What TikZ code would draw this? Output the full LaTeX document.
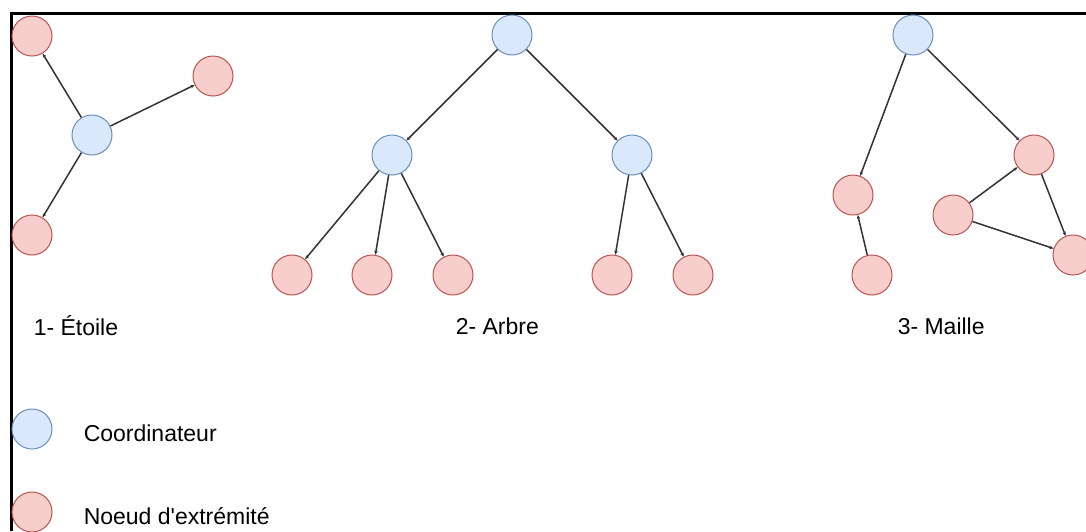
\documentclass[tikz,border=0pt]{standalone}
\usepackage{fontspec}
\setmainfont{Liberation Sans}
\usetikzlibrary{arrows.meta}

\definecolor{bleufond}{HTML}{DAE8FC}
\definecolor{bleutrait}{HTML}{6C8EBF}
\definecolor{rosefond}{HTML}{F8CECC}
\definecolor{rosetrait}{HTML}{B85450}

\begin{document}
\begin{tikzpicture}[x=1pt, y=-1pt, line width=1.5pt, font=\fontsize{23}{28}\selectfont,
		bleu/.style = {draw=bleutrait, fill=bleufond, circle, minimum size=40pt, inner sep=0pt, line width=1pt},
		rose/.style = {draw=rosetrait, fill=rosefond, circle, minimum size=40pt, inner sep=0pt, line width=1pt},
		lien/.style = {draw=black!80, -{Stealth[length=4pt,width=3.5pt]}},
		titre/.style = {anchor=west, inner sep=0pt}]
		\useasboundingbox (0,0) rectangle (1086,531);
		\clip (0,0) rectangle (1086,531);
		% cadre
		\draw[line width=2.6pt] (11.5,531) -- (11.5,13.5) -- (1100,13.5);
		
		% 1- etoile
		\node[bleu] (e1) at (92,135) {};
		\node[rose] (e2) at (32,36) {};
		\node[rose] (e3) at (213,76) {};
		\node[rose] (e4) at (32,235) {};
		\draw[lien] (e1) -- (e2);
		\draw[lien] (e1) -- (e3);
		\draw[lien] (e1) -- (e4);
		\node[titre] (t1) at (33,326) {1- Étoile};
		
		% 2- arbre
		\node[bleu] (a1) at (512,35) {};
		\node[bleu] (a2) at (392,155) {};
		\node[bleu] (a3) at (632,155) {};
		\node[rose] (a4) at (292,275) {};
		\node[rose] (a5) at (372,275) {};
		\node[rose] (a6) at (453,275) {};
		\node[rose] (a7) at (612,275) {};
		\node[rose] (a8) at (693,275) {};
		\draw[lien] (a1) -- (a2);
		\draw[lien] (a1) -- (a3);
		\foreach \f in {a4,a5,a6}
			\draw[lien] (a2) -- (\f);
		\foreach \f in {a7,a8}
			\draw[lien] (a3) -- (\f);
		\node[titre] (t2) at (455,326) {2- Arbre};
		
		% 3- maille
		\node[bleu] (m1) at (913,35) {};
		\node[rose] (m2) at (853,195) {};
		\node[rose] (m3) at (872,275) {};
		\node[rose] (m4) at (1034,155) {};
		\node[rose] (m5) at (953,215) {};
		\node[rose] (m6) at (1073,255) {};
		\draw[lien] (m1) -- (m2);
		\draw[lien] (m3) -- (m2);
		\draw[lien] (m1) -- (m4);
		\draw[lien] (m5) -- (m4);
		\draw[lien] (m5) -- (m6);
		\draw[lien] (m4) -- (m6);
		\node[titre] (t3) at (897,326) {3- Maille};
		
		% legende
		\node[bleu] (l1) at (32,429) {};
		\node[titre] (l1t) at (83,433) {Coordinateur};
		\node[rose] (l2) at (32,512) {};
		\node[titre] (l2t) at (83,516) {Noeud d\textquotesingle extrémité};
\end{tikzpicture}
\end{document}
